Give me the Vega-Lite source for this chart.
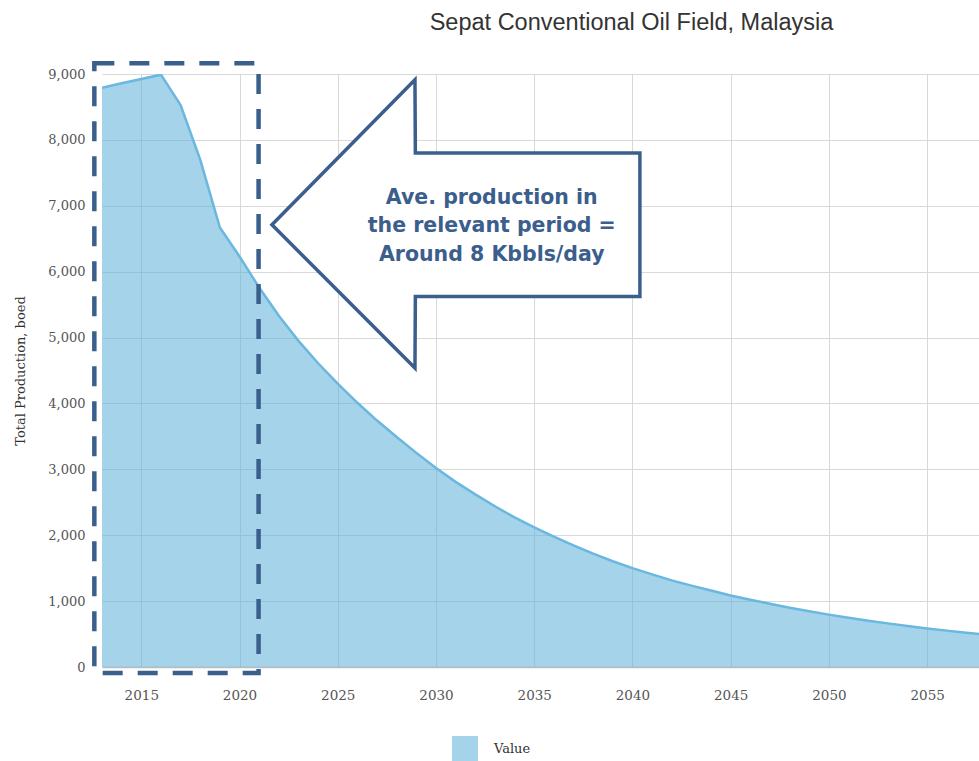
{
  "$schema": "https://vega.github.io/schema/vega-lite/v6.json",
  "autosize": "none",
  "width": 877,
  "height": 593,
  "padding": {"left": 102, "top": 74, "right": 0, "bottom": 94},
  "background": "white",
  "title": {
    "text": "Sepat Conventional Oil Field, Malaysia",
    "font": "Liberation Sans",
    "fontSize": 23.5,
    "fontWeight": "normal",
    "color": "#333333",
    "anchor": "middle",
    "dx": 91,
    "offset": 26
  },
  "config": {
    "view": {"stroke": null},
    "axis": {
      "gridColor": "#d9d9d9",
      "gridWidth": 1,
      "ticks": false,
      "labelFont": "DejaVu Serif",
      "labelColor": "#555555",
      "titleFont": "DejaVu Serif",
      "titleColor": "#333333"
    },
    "legend": {
      "labelFont": "DejaVu Serif",
      "labelFontSize": 13,
      "labelColor": "#333333"
    }
  },
  "layer": [
    {
      "data": {
        "values": [
          {"year": 2013, "value": 8790, "series": "Value"},
          {"year": 2014, "value": 8860, "series": "Value"},
          {"year": 2015, "value": 8925, "series": "Value"},
          {"year": 2016, "value": 8990, "series": "Value"},
          {"year": 2017, "value": 8530, "series": "Value"},
          {"year": 2018, "value": 7700, "series": "Value"},
          {"year": 2019, "value": 6670, "series": "Value"},
          {"year": 2020, "value": 6230, "series": "Value"},
          {"year": 2021, "value": 5760, "series": "Value"},
          {"year": 2022, "value": 5330, "series": "Value"},
          {"year": 2023, "value": 4950, "series": "Value"},
          {"year": 2024, "value": 4610, "series": "Value"},
          {"year": 2025, "value": 4300, "series": "Value"},
          {"year": 2026, "value": 4010, "series": "Value"},
          {"year": 2027, "value": 3740, "series": "Value"},
          {"year": 2028, "value": 3490, "series": "Value"},
          {"year": 2029, "value": 3250, "series": "Value"},
          {"year": 2030, "value": 3020, "series": "Value"},
          {"year": 2031, "value": 2810, "series": "Value"},
          {"year": 2032, "value": 2620, "series": "Value"},
          {"year": 2033, "value": 2440, "series": "Value"},
          {"year": 2034, "value": 2270, "series": "Value"},
          {"year": 2035, "value": 2120, "series": "Value"},
          {"year": 2036, "value": 1980, "series": "Value"},
          {"year": 2037, "value": 1845, "series": "Value"},
          {"year": 2038, "value": 1720, "series": "Value"},
          {"year": 2039, "value": 1605, "series": "Value"},
          {"year": 2040, "value": 1500, "series": "Value"},
          {"year": 2041, "value": 1405, "series": "Value"},
          {"year": 2042, "value": 1315, "series": "Value"},
          {"year": 2043, "value": 1235, "series": "Value"},
          {"year": 2044, "value": 1160, "series": "Value"},
          {"year": 2045, "value": 1085, "series": "Value"},
          {"year": 2046, "value": 1020, "series": "Value"},
          {"year": 2047, "value": 960, "series": "Value"},
          {"year": 2048, "value": 900, "series": "Value"},
          {"year": 2049, "value": 845, "series": "Value"},
          {"year": 2050, "value": 795, "series": "Value"},
          {"year": 2051, "value": 748, "series": "Value"},
          {"year": 2052, "value": 703, "series": "Value"},
          {"year": 2053, "value": 662, "series": "Value"},
          {"year": 2054, "value": 623, "series": "Value"},
          {"year": 2055, "value": 586, "series": "Value"},
          {"year": 2056, "value": 552, "series": "Value"},
          {"year": 2057, "value": 520, "series": "Value"},
          {"year": 2058, "value": 490, "series": "Value"}
        ]
      },
      "layer": [
        {
          "mark": {"type": "area", "fillOpacity": 0.55, "clip": true},
          "encoding": {
            "x": {
              "field": "year",
              "type": "quantitative",
              "scale": {"domain": [2013, 2057.64], "nice": false, "zero": false},
              "axis": {
                "title": null,
                "values": [2015, 2020, 2025, 2030, 2035, 2040, 2045, 2050, 2055],
                "format": "d",
                "labelFontSize": 13.5,
                "labelPadding": 21,
                "domainColor": "#bbbbbb",
                "domainWidth": 1.5,
                "grid": true
              }
            },
            "y": {
              "field": "value",
              "type": "quantitative",
              "scale": {"domain": [0, 9000], "nice": false},
              "axis": {
                "title": "Total Production, boed",
                "values": [0, 1000, 2000, 3000, 4000, 5000, 6000, 7000, 8000, 9000],
                "format": ",d",
                "labelFontSize": 13,
                "labelPadding": 17,
                "domain": false,
                "titleFontSize": 13,
                "titleFontWeight": "normal",
                "titleX": -82,
                "titleBaseline": "middle"
              }
            },
            "color": {
              "field": "series",
              "type": "nominal",
              "scale": {"domain": ["Value"], "range": ["#5aaed8"]},
              "legend": {
                "title": null,
                "orient": "none",
                "legendX": 350,
                "legendY": 662,
                "symbolType": "square",
                "symbolSize": 676,
                "symbolOpacity": 0.55,
                "symbolStrokeWidth": 0,
                "labelOffset": 16,
                "padding": 0
              }
            }
          }
        },
        {
          "mark": {"type": "line", "color": "#6ab7df", "strokeWidth": 2.5, "clip": true},
          "encoding": {
            "x": {"field": "year", "type": "quantitative"},
            "y": {"field": "value", "type": "quantitative"}
          }
        }
      ]
    },
    {
      "data": {"values": [{"year": 2012.61, "year2": 2020.97, "value": -91, "value2": 9165}]},
      "mark": {"type": "rect", "fill": null, "fillOpacity": 0, "stroke": "#3a5f8c", "strokeWidth": 4.5, "strokeDash": [20, 15], "clip": false},
      "encoding": {
        "x": {"field": "year", "type": "quantitative"},
        "x2": {"field": "year2"},
        "y": {"field": "value", "type": "quantitative"},
        "y2": {"field": "value2"}
      }
    },
    {
      "data": {
        "values": [
          {"year": 2021.65, "value": 6712, "value2": 6712},
          {"year": 2028.93, "value": 8912, "value2": 4537},
          {"year": 2028.95, "value": 7800, "value2": 5624},
          {"year": 2040.38, "value": 7800, "value2": 5624}
        ]
      },
      "mark": {"type": "area", "fill": "white", "fillOpacity": 1, "stroke": "#3a5f8c", "strokeWidth": 3.5, "clip": false},
      "encoding": {
        "x": {"field": "year", "type": "quantitative"},
        "y": {"field": "value", "type": "quantitative"},
        "y2": {"field": "value2"}
      }
    },
    {
      "data": {
        "values": [
          {"year": 2032.84, "value": 7124, "label": "Ave. production in"},
          {"year": 2032.84, "value": 6689, "label": "the relevant period ="},
          {"year": 2032.84, "value": 6259, "label": "Around 8 Kbbls/day"}
        ]
      },
      "mark": {"type": "text", "font": "DejaVu Sans", "fontWeight": "bold", "fontSize": 20.5, "color": "#3b5e8c", "align": "center", "baseline": "middle", "clip": false},
      "encoding": {
        "x": {"field": "year", "type": "quantitative"},
        "y": {"field": "value", "type": "quantitative"},
        "text": {"field": "label"}
      }
    }
  ]
}
